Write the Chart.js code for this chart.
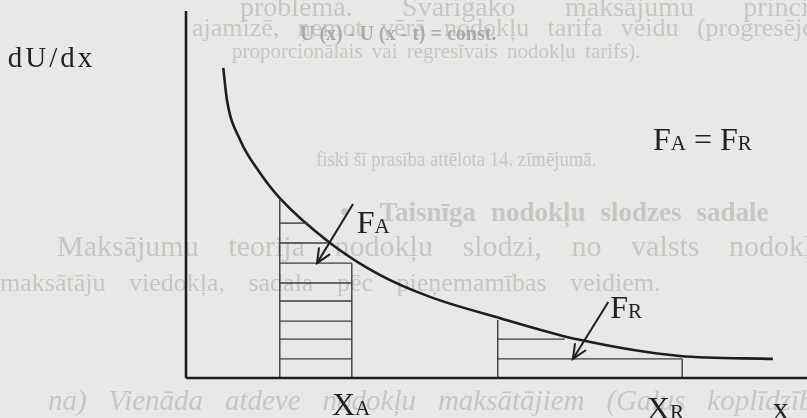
<!DOCTYPE html>
<html>
<head>
<meta charset="utf-8">
<script src="https://cdn.jsdelivr.net/npm/chart.js@4"></script>
<style>
  html, body { margin: 0; padding: 0; background: #e8e8e6; }
  #page { position: relative; width: 807px; height: 418px; overflow: hidden; }
  .bt { position: absolute; display: inline-block; white-space: nowrap; font-family: "Liberation Serif", serif;
        font-size: 25px; line-height: 30px; color: #c6c6c4; filter: blur(0.5px); transform-origin: 0 0; }
  .b { font-weight: bold; }
  .i { font-style: italic; }
  .dark { color: #abaaa8; font-weight: bold; }
  canvas { position: absolute; left: 0; top: 0; }
</style>
</head>
<body>
<div id="page">
  <div class="bt" data-w="590" style="left:240px;top:-8px;font-size:28px;">problēma. Svarīgāko maksājumu principi</div>
  <div class="bt" data-w="650" style="left:192px;top:13px;font-size:26px;">ajamizē, ņemot vērā nodokļu tarifa veidu (progresējošs,</div>
  <div class="bt dark" data-w="196" style="left:300px;top:18px;font-size:20px;">U (x) - U (x - t) = const.</div>
  <div class="bt" data-w="408" style="left:232px;top:36px;font-size:21px;">proporcionālais vai regresīvais nodokļu tarifs).</div>
  <div class="bt" data-w="280" style="left:316px;top:144px;font-size:20px;">fiski šī prasība attēlota 14. zīmējumā.</div>
  <div class="bt b" data-w="420" style="left:340px;top:197px;font-size:27px;">•&nbsp;&nbsp;Taisnīga nodokļu slodzes sadale</div>
  <div class="bt" data-w="770" style="left:57px;top:231px;font-size:30px;">Maksājumu teorija nodokļu slodzi, no valsts nodokļu</div>
  <div class="bt" data-w="660" style="left:0px;top:268px;font-size:26px;">maksātāju viedokļa, sadala pēc pieņemamības veidiem.</div>
  <div class="bt i" data-w="790" style="left:48px;top:385px;font-size:29px;">na) Vienāda atdeve nodokļu maksātājiem (Galus koplīdzība)</div>
  <canvas id="c" width="807" height="418"></canvas>
</div>
<script>
// Spread or condense each page line to its set width
document.querySelectorAll('.bt').forEach(el => {
  const w = +el.dataset.w;
  const natural = el.scrollWidth;
  const gaps = el.textContent.trim().split(/\s+/).length - 1;
  if (natural < w && gaps > 0) {
    el.style.wordSpacing = ((w - natural) / gaps) + 'px';
  } else if (natural > w) {
    el.style.transform = 'scaleX(' + (w / natural) + ')';
  }
});

// Marginal utility curve dU/dx over income x
const curveX = [6.0, 6.6, 8.7, 11.9, 15.1, 23.2, 31.2, 39.3, 50.6, 63.4, 79.5, 94.5];
const curveY = [84.5, 75.7, 64.9, 55.9, 49.0, 36.8, 28.1, 22.1, 16.3, 10.4, 6.0, 5.2];

// Income strips taxed for the two payers (left/right edge on x)
const stripA = [15.1, 26.7];
const stripR = [50.2, 79.9];
// Height where each strip's left edge meets the curve, and the top of each strip
const stripTopA = 49.0;
const stripTopR = 15.8;
const stripCapA = 31.3;
const stripCapR = 5.2;

// Hatching levels and where each hatch line ends on x
const levelsA = [5.2, 10.6, 15.5, 21.0, 25.9, 31.3, 36.8, 42.2];
const levelsAEnd = [26.7, 26.7, 26.7, 26.7, 26.7, 26.7, 22.8, 19.6];
const levelsR = [5.2, 10.6];
const levelsREnd = [79.9, 61.0];

// Pointer arrows to the burden areas: [start, tip]
const arrowA = [[26.9, 47.4], [21.1, 31.3]];
const arrowR = [[68.0, 20.7], [62.3, 5.2]];

// Text
const yTitle = 'dU/dx';
const xTitle = 'x';
const tickLabels = [['X', 'A'], ['X', 'R']];
const areaLabels = [['F', 'A'], ['F', 'R']];
const equation = [['F', 'A'], ' = ', ['F', 'R']];

const INK = '#1d1d1d';
const HATCH = '#3c3c3c';

function seg(points, color, width) {
  return {
    data: points.map(p => ({ x: p[0], y: p[1] })),
    showLine: true, borderColor: color, borderWidth: width,
    pointRadius: 0, clip: false, tension: 0
  };
}

const datasets = [];
// axes
datasets.push(seg([[0, 0], [0, 100]], INK, 2.6));
datasets.push(seg([[0, 0], [100, 0]], INK, 2.6));
// strip A edges and hatching
datasets.push(seg([[stripA[0], 0], [stripA[0], stripTopA]], HATCH, 1.4));
datasets.push(seg([[stripA[1], 0], [stripA[1], stripCapA]], HATCH, 1.4));
levelsA.forEach((lv, i) => datasets.push(seg([[stripA[0], lv], [levelsAEnd[i], lv]], HATCH, 1.4)));
// strip R edges and hatching
datasets.push(seg([[stripR[0], 0], [stripR[0], stripTopR]], HATCH, 1.4));
datasets.push(seg([[stripR[1], 0], [stripR[1], stripCapR]], HATCH, 1.4));
levelsR.forEach((lv, i) => datasets.push(seg([[stripR[0], lv], [levelsREnd[i], lv]], HATCH, 1.4)));
// arrows
datasets.push(seg(arrowA, INK, 2));
datasets.push(seg(arrowR, INK, 2));
// the curve
datasets.push({
  data: curveX.map((x, i) => ({ x, y: curveY[i] })),
  showLine: true, borderColor: INK, borderWidth: 2.6, pointRadius: 0,
  clip: false, cubicInterpolationMode: 'monotone'
});

function drawParts(ctx, parts, px, py, big, small) {
  let cx = px;
  parts.forEach(part => {
    if (typeof part === 'string') {
      ctx.font = big + 'px "Liberation Serif"';
      ctx.fillText(part, cx, py);
      cx += ctx.measureText(part).width;
    } else {
      ctx.font = big + 'px "Liberation Serif"';
      ctx.fillText(part[0], cx, py);
      cx += ctx.measureText(part[0]).width;
      ctx.font = small + 'px "Liberation Serif"';
      ctx.fillText(part[1], cx, py);
      cx += ctx.measureText(part[1]).width;
    }
  });
}

const annotate = {
  id: 'annotate',
  afterDraw(chart) {
    const { ctx } = chart;
    const sx = chart.scales.x, sy = chart.scales.y;
    const P = (x, y) => [sx.getPixelForValue(x), sy.getPixelForValue(y)];

    // open arrowheads
    ctx.save();
    ctx.strokeStyle = INK;
    ctx.lineWidth = 2;
    ctx.lineCap = 'round';
    [arrowA, arrowR].forEach(a => {
      const [x0, y0] = P(a[0][0], a[0][1]);
      const [x1, y1] = P(a[1][0], a[1][1]);
      const ang = Math.atan2(y1 - y0, x1 - x0);
      const len = 15, spread = 0.42;
      ctx.beginPath();
      ctx.moveTo(x1 - len * Math.cos(ang - spread), y1 - len * Math.sin(ang - spread));
      ctx.lineTo(x1, y1);
      ctx.lineTo(x1 - len * Math.cos(ang + spread), y1 - len * Math.sin(ang + spread));
      ctx.stroke();
    });
    ctx.restore();

    ctx.save();
    ctx.fillStyle = '#222';
    ctx.textBaseline = 'alphabetic';
    // axis titles
    let p = P(-28.7, 84.7);
    ctx.font = '29px "Liberation Serif"';
    ctx.letterSpacing = '3px';
    ctx.fillText(yTitle, p[0], p[1]);
    ctx.letterSpacing = '0px';
    p = P(94.5, -11.2);
    ctx.font = '32px "Liberation Serif"';
    ctx.fillText(xTitle, p[0], p[1]);
    // marks on the income axis
    p = P(23.5, -10.2);
    drawParts(ctx, [tickLabels[0]], p[0], p[1], 32, 21);
    p = P(74.2, -11.2);
    drawParts(ctx, [tickLabels[1]], p[0], p[1], 32, 21);
    // area labels
    p = P(27.5, 39.5);
    drawParts(ctx, [areaLabels[0]], p[0], p[1], 32, 21);
    p = P(68.3, 16.3);
    drawParts(ctx, [areaLabels[1]], p[0], p[1], 32, 21);
    // equal burden condition
    p = P(75.2, 62.1);
    drawParts(ctx, equation, p[0], p[1], 32, 21);
    ctx.restore();
  }
};

new Chart(document.getElementById('c'), {
  type: 'scatter',
  data: { datasets },
  options: {
    responsive: false,
    devicePixelRatio: 1,
    animation: false,
    layout: { padding: { left: 186, top: 11, right: 0, bottom: 40 } },
    plugins: { legend: { display: false }, tooltip: { enabled: false } },
    scales: {
      x: { type: 'linear', min: 0, max: 100, display: false },
      y: { type: 'linear', min: 0, max: 100, display: false }
    }
  },
  plugins: [annotate]
});
</script>
</body>
</html>
